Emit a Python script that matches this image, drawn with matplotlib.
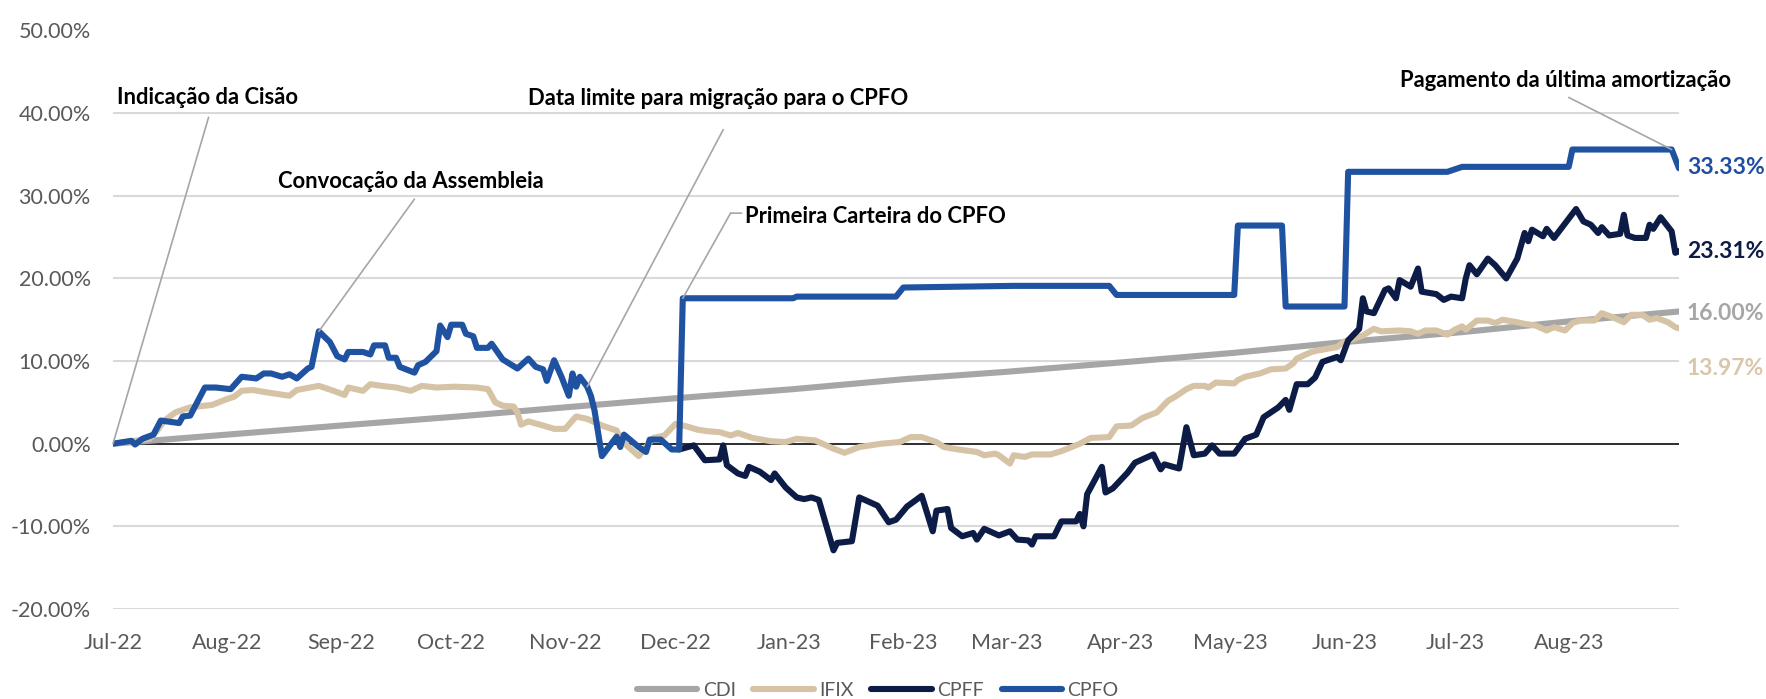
import numpy as np
import pandas as pd
import matplotlib
matplotlib.use("Agg")
import matplotlib.pyplot as plt
import matplotlib.dates as mdates
from matplotlib.ticker import FuncFormatter

plt.rcParams['font.family'] = ['Lato', 'DejaVu Sans']

# --- data (cumulative return, %) ---
cdi_dates = ['2022-07-01', '2022-08-01', '2022-09-01', '2022-10-03', '2022-11-01', '2022-12-01',
             '2023-01-02', '2023-02-01', '2023-03-01', '2023-04-03', '2023-05-02', '2023-06-01',
             '2023-07-03', '2023-08-01', '2023-08-31']
cdi_vals = [0.0, 1.1, 2.2, 3.3, 4.4, 5.5, 6.6, 7.8, 8.7, 9.9, 11.0, 12.3, 13.5, 14.8, 16.0]

ifix_dates = ['2022-07-01', '2022-07-11', '2022-07-13', '2022-07-15', '2022-07-18', '2022-07-22',
              '2022-07-24', '2022-07-28', '2022-08-01', '2022-08-03', '2022-08-05', '2022-08-08',
              '2022-08-12', '2022-08-18', '2022-08-20', '2022-08-26', '2022-08-30', '2022-09-02',
              '2022-09-03', '2022-09-07', '2022-09-09', '2022-09-12', '2022-09-16', '2022-09-20',
              '2022-09-23', '2022-09-27', '2022-10-02', '2022-10-08', '2022-10-11', '2022-10-13',
              '2022-10-15', '2022-10-18', '2022-10-19', '2022-10-20', '2022-10-22', '2022-10-26',
              '2022-10-29', '2022-11-01', '2022-11-04', '2022-11-07', '2022-11-11', '2022-11-15',
              '2022-11-16', '2022-11-18', '2022-11-21', '2022-11-25', '2022-11-28', '2022-12-01',
              '2022-12-04', '2022-12-07', '2022-12-10', '2022-12-13', '2022-12-16', '2022-12-18',
              '2022-12-22', '2022-12-27', '2022-12-31', '2023-01-03', '2023-01-08', '2023-01-13',
              '2023-01-16', '2023-01-20', '2023-01-26', '2023-01-31', '2023-02-03', '2023-02-06',
              '2023-02-10', '2023-02-12', '2023-02-16', '2023-02-21', '2023-02-23', '2023-02-26',
              '2023-02-27', '2023-03-02', '2023-03-03', '2023-03-06', '2023-03-08', '2023-03-13',
              '2023-03-16', '2023-03-21', '2023-03-24', '2023-03-29', '2023-03-31', '2023-04-04',
              '2023-04-07', '2023-04-11', '2023-04-14', '2023-04-16', '2023-04-19', '2023-04-21',
              '2023-04-24', '2023-04-25', '2023-04-27', '2023-05-02', '2023-05-03', '2023-05-05',
              '2023-05-09', '2023-05-12', '2023-05-16', '2023-05-18', '2023-05-19', '2023-05-23',
              '2023-05-25', '2023-05-30', '2023-06-01', '2023-06-03', '2023-06-06', '2023-06-09',
              '2023-06-11', '2023-06-16', '2023-06-19', '2023-06-21', '2023-06-23', '2023-06-26',
              '2023-06-29', '2023-07-01', '2023-07-03', '2023-07-04', '2023-07-07', '2023-07-10',
              '2023-07-12', '2023-07-14', '2023-07-18', '2023-07-20', '2023-07-23', '2023-07-26',
              '2023-07-28', '2023-07-31', '2023-08-02', '2023-08-04', '2023-08-08', '2023-08-10',
              '2023-08-13', '2023-08-15', '2023-08-16', '2023-08-18', '2023-08-21', '2023-08-23',
              '2023-08-25', '2023-08-28', '2023-08-30', '2023-08-31']
ifix_vals = [0.0, 0.6, 1.6, 2.8, 3.8, 4.4,
             4.5, 4.7, 5.4, 5.7, 6.4, 6.5,
             6.2, 5.8, 6.5, 7.0, 6.4, 5.9,
             6.8, 6.4, 7.2, 7.0, 6.8, 6.4,
             7.0, 6.8, 6.9, 6.8, 6.6, 5.0,
             4.6, 4.5, 3.8, 2.3, 2.7, 2.2,
             1.8, 1.8, 3.3, 3.0, 2.2, 1.6,
             0.6, -0.3, -1.5, 0.7, 1.0, 2.4,
             2.1, 1.7, 1.5, 1.4, 1.0, 1.3,
             0.7, 0.3, 0.2, 0.6, 0.4, -0.6,
             -1.1, -0.4, 0.0, 0.2, 0.8, 0.8,
             0.2, -0.4, -0.7, -1.0, -1.4, -1.2,
             -1.4, -2.4, -1.4, -1.6, -1.3, -1.3,
             -0.9, 0.0, 0.7, 0.8, 2.1, 2.2,
             3.1, 3.8, 5.2, 5.7, 6.6, 7.0,
             7.0, 6.8, 7.4, 7.3, 7.7, 8.1,
             8.5, 9.0, 9.1, 9.7, 10.3, 11.1,
             11.3, 11.7, 12.4, 12.6, 13.1, 13.9,
             13.6, 13.7, 13.6, 13.3, 13.7, 13.7,
             13.2, 13.8, 14.2, 13.8, 14.9, 14.9,
             14.6, 15.0, 14.7, 14.5, 14.3, 13.7,
             14.1, 13.7, 14.6, 14.9, 14.9, 15.8,
             15.3, 14.9, 14.7, 15.6, 15.6, 15.0,
             15.2, 14.7, 14.1, 13.97]

cpff_dates = ['2022-12-02', '2022-12-06', '2022-12-09', '2022-12-13', '2022-12-14', '2022-12-15',
              '2022-12-18', '2022-12-20', '2022-12-21', '2022-12-24', '2022-12-27', '2022-12-28',
              '2022-12-31', '2023-01-03', '2023-01-05', '2023-01-07', '2023-01-09', '2023-01-13',
              '2023-01-14', '2023-01-18', '2023-01-20', '2023-01-25', '2023-01-28', '2023-01-30',
              '2023-02-02', '2023-02-06', '2023-02-09', '2023-02-10', '2023-02-13', '2023-02-14',
              '2023-02-17', '2023-02-20', '2023-02-21', '2023-02-23', '2023-02-27', '2023-03-02',
              '2023-03-04', '2023-03-07', '2023-03-08', '2023-03-09', '2023-03-14', '2023-03-16',
              '2023-03-20', '2023-03-21', '2023-03-22', '2023-03-23', '2023-03-27', '2023-03-28',
              '2023-03-30', '2023-04-03', '2023-04-05', '2023-04-10', '2023-04-12', '2023-04-13',
              '2023-04-17', '2023-04-19', '2023-04-21', '2023-04-24', '2023-04-26', '2023-04-28',
              '2023-05-02', '2023-05-05', '2023-05-08', '2023-05-10', '2023-05-14', '2023-05-16',
              '2023-05-17', '2023-05-19', '2023-05-22', '2023-05-24', '2023-05-26', '2023-05-30',
              '2023-05-31', '2023-06-02', '2023-06-05', '2023-06-06', '2023-06-07', '2023-06-09',
              '2023-06-12', '2023-06-13', '2023-06-15', '2023-06-16', '2023-06-19', '2023-06-21',
              '2023-06-22', '2023-06-26', '2023-06-28', '2023-06-30', '2023-07-03', '2023-07-04',
              '2023-07-05', '2023-07-07', '2023-07-10', '2023-07-12', '2023-07-15', '2023-07-18',
              '2023-07-20', '2023-07-21', '2023-07-22', '2023-07-25', '2023-07-26', '2023-07-28',
              '2023-08-03', '2023-08-05', '2023-08-07', '2023-08-09', '2023-08-10', '2023-08-12',
              '2023-08-15', '2023-08-16', '2023-08-17', '2023-08-19', '2023-08-22', '2023-08-23',
              '2023-08-24', '2023-08-26', '2023-08-29', '2023-08-30', '2023-08-31']
cpff_vals = [-0.7, -0.2, -2.0, -1.9, -0.2, -2.6,
             -3.6, -3.9, -2.8, -3.4, -4.4, -3.6,
             -5.3, -6.5, -6.7, -6.5, -6.8, -12.9,
             -12.0, -11.8, -6.5, -7.5, -9.5, -9.2,
             -7.6, -6.3, -10.6, -8.1, -7.9, -10.2,
             -11.2, -10.8, -11.6, -10.3, -11.1, -10.6,
             -11.6, -11.7, -12.2, -11.2, -11.2, -9.4,
             -9.4, -8.5, -10.0, -6.1, -2.8, -5.9,
             -5.4, -3.5, -2.3, -1.3, -3.1, -2.5,
             -3.0, 2.0, -1.4, -1.2, -0.2, -1.2,
             -1.2, 0.6, 1.1, 3.2, 4.4, 5.3,
             4.1, 7.2, 7.2, 8.0, 9.9, 10.5,
             10.1, 12.5, 13.9, 17.6, 16.0, 15.8,
             18.6, 18.8, 17.6, 19.8, 19.0, 21.2,
             18.4, 18.1, 17.4, 17.8, 17.6, 20.0,
             21.6, 20.5, 22.4, 21.6, 20.0, 22.4,
             25.5, 24.5, 25.9, 25.1, 26.0, 24.9,
             28.4, 26.9, 26.5, 25.5, 26.2, 25.2,
             25.4, 27.7, 25.2, 24.9, 24.9, 26.5,
             26.0, 27.4, 25.7, 23.1, 23.31]

cpfo_dates = ['2022-07-01', '2022-07-06', '2022-07-07', '2022-07-09', '2022-07-12', '2022-07-14',
              '2022-07-19', '2022-07-20', '2022-07-22', '2022-07-26', '2022-07-29', '2022-08-02',
              '2022-08-05', '2022-08-09', '2022-08-11', '2022-08-13', '2022-08-16', '2022-08-18',
              '2022-08-20', '2022-08-23', '2022-08-24', '2022-08-26', '2022-08-29', '2022-08-31',
              '2022-09-02', '2022-09-03', '2022-09-07', '2022-09-09', '2022-09-10', '2022-09-13',
              '2022-09-14', '2022-09-16', '2022-09-17', '2022-09-21', '2022-09-22', '2022-09-24',
              '2022-09-27', '2022-09-28', '2022-09-30', '2022-10-01', '2022-10-04', '2022-10-05',
              '2022-10-07', '2022-10-08', '2022-10-11', '2022-10-12', '2022-10-15', '2022-10-19',
              '2022-10-22', '2022-10-24', '2022-10-26', '2022-10-27', '2022-10-29', '2022-10-31',
              '2022-11-02', '2022-11-03', '2022-11-04', '2022-11-05', '2022-11-07', '2022-11-08',
              '2022-11-09', '2022-11-11', '2022-11-15', '2022-11-16', '2022-11-17', '2022-11-21',
              '2022-11-23', '2022-11-24', '2022-11-27', '2022-11-30', '2022-12-02', '2022-12-03',
              '2023-01-02', '2023-01-03', '2023-01-30', '2023-02-01', '2023-03-03', '2023-03-29',
              '2023-03-31', '2023-05-02', '2023-05-03', '2023-05-15', '2023-05-16', '2023-06-01',
              '2023-06-02', '2023-06-29', '2023-07-03', '2023-08-01', '2023-08-02', '2023-08-29',
              '2023-08-31']
cpfo_vals = [0.0, 0.35, -0.1, 0.6, 1.1, 2.8,
             2.5, 3.3, 3.4, 6.8, 6.8, 6.6,
             8.1, 7.9, 8.5, 8.5, 8.1, 8.4,
             7.9, 9.1, 9.3, 13.6, 12.3, 10.6,
             10.2, 11.1, 11.1, 10.8, 11.9, 11.9,
             10.4, 10.4, 9.3, 8.6, 9.5, 9.9,
             11.2, 14.3, 12.9, 14.4, 14.4, 13.3,
             13.0, 11.6, 11.6, 12.1, 10.2, 9.1,
             10.3, 9.3, 9.0, 7.6, 10.1, 8.1,
             5.8, 8.5, 6.9, 8.1, 6.9, 5.8,
             4.0, -1.5, 0.85, -0.4, 1.1, -0.4,
             -1.0, 0.5, 0.5, -0.7, -0.7, 17.6,
             17.6, 17.8, 17.8, 18.9, 19.1, 19.1,
             18.0, 18.0, 26.4, 26.4, 16.6, 16.6,
             32.9, 32.9, 33.5, 33.5, 35.6, 35.6,
             33.33]

series_names = ['CDI', 'IFIX', 'CPFF', 'CPFO']
series_colors = ['#a6a6a6', '#d6c3a6', '#0c1c46', '#1f53a2']
label_colors = ['#a6a6a6', '#d9c7aa', '#0c1c46', '#1f4e9f']

cdi = pd.Series(cdi_vals, index=pd.to_datetime(cdi_dates))
ifix = pd.Series(ifix_vals, index=pd.to_datetime(ifix_dates))
cpff = pd.Series(cpff_vals, index=pd.to_datetime(cpff_dates))
cpfo = pd.Series(cpfo_vals, index=pd.to_datetime(cpfo_dates))
all_series = [cdi, ifix, cpff, cpfo]

fig = plt.figure(figsize=(17.66, 6.99), dpi=100)
ax = fig.add_axes([113 / 1766, 1 - 609 / 699, 1566 / 1766, 578.5 / 699])

for s, name, col in zip(all_series, series_names, series_colors):
    ax.plot(s.index, s.values, color=col, lw=4.4, label=name,
            solid_capstyle='round', solid_joinstyle='round', zorder=3)

ax.axhline(0, color='black', lw=1.1, zorder=2)

ax.set_xlim(pd.Timestamp('2022-07-01'), pd.Timestamp('2023-08-31'))
ax.set_ylim(-20, 50)
ax.set_yticks(np.arange(-20, 51, 10))
ax.yaxis.set_major_formatter(FuncFormatter(lambda v, p: f'{v:.2f}%'))
ax.xaxis.set_major_locator(mdates.MonthLocator())
ax.xaxis.set_major_formatter(mdates.DateFormatter('%b-%y'))
ax.grid(axis='y', color='#d9d9d9', lw=1.5, zorder=0)
for sp in ax.spines.values():
    sp.set_visible(False)
ax.tick_params(axis='both', length=0, labelsize=15.5, labelcolor='#595959')
ax.tick_params(axis='y', pad=16)
ax.tick_params(axis='x', pad=17)

# end-of-period labels
end_label_y = [15.8, 9.1, 23.3, 33.4]
for s, ly, col in zip(all_series, end_label_y, label_colors):
    ax.text(1.005, ly, f'{s.values[-1]:.2f}%', transform=ax.get_yaxis_transform(),
            color=col, fontsize=16.5, fontweight='bold', ha='left', va='center')

# event annotations
ann_kw = dict(fontsize=15.8, fontweight='bold', color='black', ha='left', va='center')
line_kw = dict(arrowstyle='-', color='#a6a6a6', lw=1.2, shrinkA=0, shrinkB=0)
T = pd.Timestamp

ax.text(T('2022-07-02'), 41.9, 'Indicação da Cisão', **ann_kw)
ax.annotate('', xy=(cpfo.index[0], cpfo.values[0]), xytext=(T('2022-07-27'), 39.5),
            arrowprops=line_kw)

ax.text(T('2022-08-15'), 31.7, 'Convocação da Assembleia', **ann_kw)
ax.annotate('', xy=(T('2022-08-26'), cpfo[T('2022-08-26')]), xytext=(T('2022-09-21'), 29.6),
            arrowprops=line_kw)

ax.text(T('2022-10-22'), 41.8, 'Data limite para migração para o CPFO', **ann_kw)
ax.annotate('', xy=(T('2022-11-07'), cpfo[T('2022-11-07')]), xytext=(T('2022-12-14'), 38.0),
            arrowprops=line_kw)

ax.text(T('2022-12-20'), 27.5, 'Primeira Carteira do CPFO', **ann_kw)
ax.annotate('', xy=(T('2022-12-03'), cpfo[T('2022-12-03')]), xytext=(T('2022-12-16'), 27.9),
            arrowprops=line_kw)
ax.annotate('', xy=(T('2022-12-16'), 27.9), xytext=(T('2022-12-19'), 27.9), arrowprops=line_kw)

ax.text(T('2023-06-16'), 44.0, 'Pagamento da última amortização', **ann_kw)
ax.annotate('', xy=(T('2023-08-29'), cpfo[T('2023-08-29')]), xytext=(T('2023-08-01'), 41.9),
            arrowprops=line_kw)

fig.legend(loc='center', bbox_to_anchor=(0.497, 0.012), ncol=4, frameon=False,
           fontsize=14, handlelength=3.1, handletextpad=0.3, columnspacing=0.9,
           labelcolor='#595959')

fig.savefig('out.png', dpi=100)
